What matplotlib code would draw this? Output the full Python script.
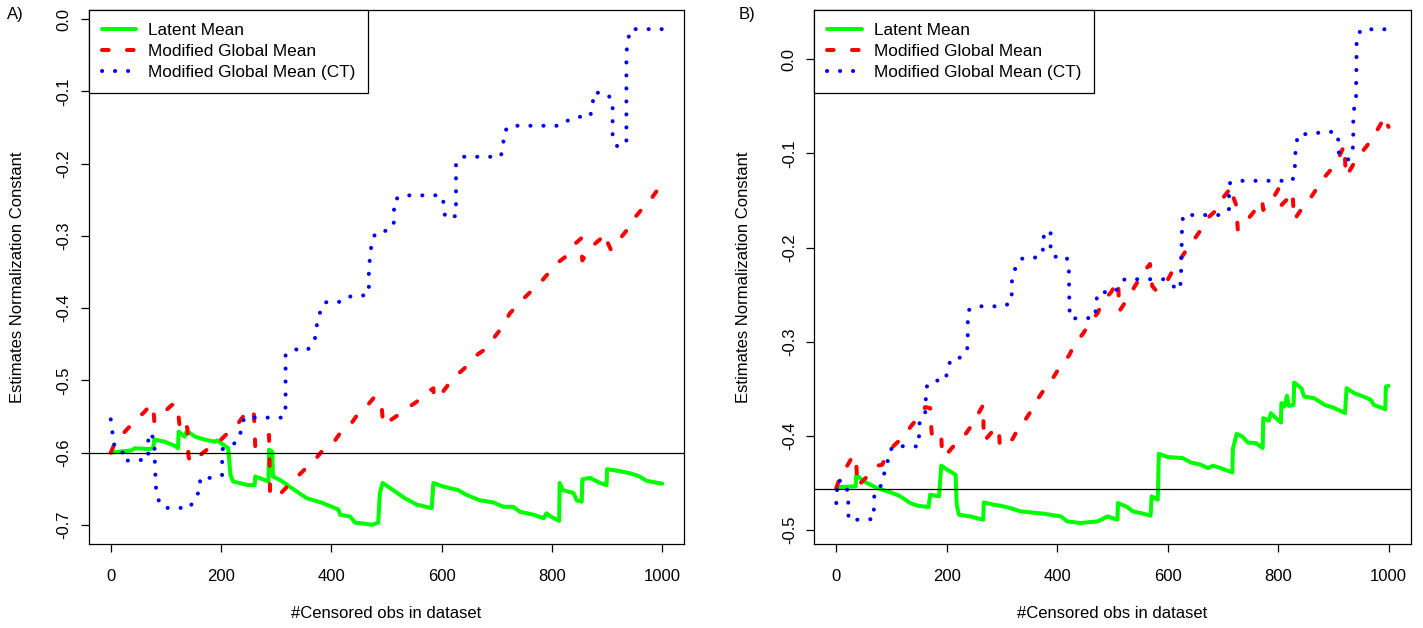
import matplotlib
matplotlib.use("Agg")
import matplotlib.pyplot as plt

plt.rcParams['font.family'] = ['Liberation Sans', 'DejaVu Sans']
plt.rcParams['axes.unicode_minus'] = False
plt.rcParams['lines.scale_dashes'] = False

# ---------------- data (x = #censored obs, y = estimate) ----------------
series_labels = ["Latent Mean", "Modified Global Mean", "Modified Global Mean (CT)"]
x_ticks = [0, 200, 400, 600, 800, 1000]
yticks_A = [-0.7, -0.6, -0.5, -0.4, -0.3, -0.2, -0.1, 0.0]
yticks_B = [-0.5, -0.4, -0.3, -0.2, -0.1, 0.0]
ref_A = -0.6
ref_B = -0.4566

A_latent = [(0,-0.600),(37,-0.597),(44,-0.594),(68,-0.595),(77,-0.594),(79,-0.582),(98,-0.585),
    (117,-0.591),(122,-0.594),(123,-0.571),(130,-0.5755),(134,-0.578),(138,-0.570),(153,-0.578),
    (170,-0.582),(189,-0.585),(193,-0.583),(213,-0.594),(217,-0.631),(222,-0.640),(249,-0.645),
    (261,-0.645),(262,-0.633),(286,-0.640),(287,-0.596),(293,-0.599),(294,-0.633),(307,-0.638),
    (324,-0.647),(355,-0.663),(385,-0.670),(413,-0.679),(416,-0.686),(434,-0.6885),(443,-0.697),
    (457,-0.698),(473,-0.700),(485,-0.697),(488,-0.656),(493,-0.642),(512,-0.652),(533,-0.663),
    (555,-0.672),(582,-0.677),(585,-0.642),(603,-0.647),(630,-0.652),(645,-0.6585),(669,-0.666),
    (694,-0.669),(712,-0.675),(730,-0.675),(742,-0.682),(767,-0.686),(785,-0.691),(790,-0.684),
    (799,-0.689),(813,-0.6945),(814,-0.642),(820,-0.652),(839,-0.656),(845,-0.666),(854,-0.668),
    (855,-0.637),(869,-0.635),(887,-0.642),(899,-0.645),(900,-0.623),(918,-0.625),(941,-0.6285),
    (959,-0.633),(971,-0.639),(1000,-0.643)]

A_mgm = [(0,-0.600),(8,-0.586),(28,-0.569),(41,-0.5585),(62,-0.543),(73,-0.533),(77,-0.535),
    (79,-0.557),(95,-0.545),(111,-0.534),(122,-0.534),(123,-0.550),(126,-0.571),(136,-0.562),
    (139,-0.566),(141,-0.605),(144,-0.614),(158,-0.606),(176,-0.595),(192,-0.588),(212,-0.573),
    (225,-0.566),(240,-0.550),(256,-0.541),(259,-0.540),(260,-0.553),(262,-0.592),(271,-0.587),
    (287,-0.5755),(289,-0.661),(310,-0.655),(320,-0.647),(340,-0.632),(352,-0.623),(370,-0.610),
    (382,-0.599),(404,-0.586),(416,-0.573),(434,-0.562),(446,-0.549),(464,-0.536),(476,-0.525),
    (488,-0.525),(491,-0.534),(494,-0.562),(521,-0.548),(533,-0.541),(555,-0.5295),(570,-0.518),
    (585,-0.511),(586,-0.525),(600,-0.518),(612,-0.506),(630,-0.491),(642,-0.483),(660,-0.467),
    (675,-0.459),(694,-0.442),(706,-0.430),(724,-0.407),(749,-0.3865),(781,-0.363),(809,-0.338),
    (823,-0.330),(839,-0.313),(853,-0.3035),(855,-0.334),(872,-0.315),(887,-0.305),(899,-0.297),
    (900,-0.3075),(907,-0.3196),(918,-0.309),(935,-0.293),(944,-0.2805),(961,-0.265),(975,-0.254),
    (990,-0.238),(1000,-0.226)]

A_ct = [(0,-0.554),(3,-0.571),(4,-0.588),(21,-0.5945),(22,-0.611),(47,-0.611),(68,-0.609),
    (68,-0.573),(79,-0.580),(80,-0.6156),(81,-0.632),(82,-0.649),(86,-0.665),(96,-0.6765),
    (120,-0.6765),(144,-0.6765),(150,-0.664),(162,-0.653),(162,-0.635),(185,-0.635),(202,-0.631),
    (202,-0.6125),(203,-0.595),(220,-0.590),(233,-0.581),(237,-0.566),(242,-0.5516),(266,-0.5516),
    (289,-0.5516),(313,-0.5516),(317,-0.537),(317,-0.465),(333,-0.457),(355,-0.459),(367,-0.4497),
    (373,-0.435),(374,-0.418),(380,-0.405),(388,-0.392),(413,-0.392),(427,-0.384),(450,-0.384),
    (468,-0.3805),(468,-0.345),(473,-0.3104),(480,-0.2957),(499,-0.293),(513,-0.2865),
    (514,-0.2505),(529,-0.244),(600,-0.244),(605,-0.259),(606,-0.275),(626,-0.2726),(626,-0.200),
    (637,-0.1906),(707,-0.1906),(712,-0.1758),(712,-0.1574),(723,-0.1477),(816,-0.1477),
    (830,-0.1398),(846,-0.1353),(869,-0.1353),(874,-0.120),(875,-0.102),(897,-0.102),(910,-0.112),
    (910,-0.1657),(919,-0.1768),(935,-0.1712),(935,-0.046),(938,-0.030),(942,-0.014),(1000,-0.014)]

B_latent = [(0,-0.4566),(4,-0.4545),(31,-0.4538),(35,-0.4538),(36,-0.4414),(50,-0.4485),
    (74,-0.4555),(98,-0.4601),(114,-0.4637),(134,-0.4715),(147,-0.4743),(167,-0.4757),
    (170,-0.4626),(186,-0.4644),(190,-0.4318),(201,-0.4361),(216,-0.4414),(218,-0.4732),
    (222,-0.4839),(243,-0.4857),(266,-0.4892),(267,-0.4708),(285,-0.4732),(297,-0.4743),
    (315,-0.4768),(334,-0.4804),(352,-0.4814),(376,-0.4828),(407,-0.4857),(418,-0.491),
    (442,-0.4927),(473,-0.491),(491,-0.4857),(509,-0.4892),(510,-0.4715),(527,-0.4757),
    (537,-0.4804),(551,-0.4821),(569,-0.4849),(571,-0.4644),(582,-0.4679),(584,-0.4191),
    (600,-0.4226),(627,-0.4237),(642,-0.4283),(660,-0.4308),(673,-0.4343),(682,-0.4318),
    (696,-0.4343),(717,-0.439),(718,-0.4141),(725,-0.3979),(735,-0.4007),(745,-0.4071),
    (760,-0.4078),(772,-0.413),(773,-0.3812),(783,-0.3838),(787,-0.3759),(796,-0.3812),
    (805,-0.3859),(806,-0.3653),(811,-0.3689),(816,-0.3575),(819,-0.3682),(828,-0.3671),
    (829,-0.3434),(842,-0.3494),(847,-0.3583),(865,-0.360),(884,-0.3671),(902,-0.3706),
    (921,-0.3759),(924,-0.3494),(938,-0.3547),(954,-0.3583),(968,-0.3618),(973,-0.3671),
    (994,-0.3717),(995,-0.3477),(1000,-0.347)]

B_mgm = [(0,-0.4555),(7,-0.4438),(22,-0.4297),(31,-0.4202),(34,-0.424),(36,-0.4283),(37,-0.439),
    (38,-0.4538),(50,-0.4467),(68,-0.4368),(74,-0.4318),(83,-0.4308),(92,-0.4202),(104,-0.4106),
    (125,-0.399),(134,-0.3908),(152,-0.3777),(161,-0.3695),(170,-0.3706),(171,-0.3823),
    (173,-0.399),(183,-0.3944),(190,-0.4007),(191,-0.412),(195,-0.4226),(204,-0.4167),
    (222,-0.4042),(234,-0.3982),(250,-0.3848),(256,-0.3777),(266,-0.3671),(267,-0.406),
    (279,-0.3979),(290,-0.3901),(295,-0.399),(296,-0.4106),(306,-0.4113),(319,-0.4035),
    (331,-0.3908),(343,-0.3823),(358,-0.3689),(367,-0.359),(382,-0.3459),(394,-0.337),
    (409,-0.3228),(421,-0.3151),(433,-0.301),(445,-0.2928),(461,-0.2787),(473,-0.2698),
    (484,-0.2556),(497,-0.2479),(510,-0.2351),(511,-0.2468),(512,-0.268),(520,-0.2609),
    (533,-0.2485),(542,-0.2397),(557,-0.2256),(568,-0.2174),(570,-0.2309),(572,-0.2408),
    (578,-0.245),(586,-0.2397),(590,-0.2408),(600,-0.2344),(609,-0.2245),(624,-0.2114),
    (633,-0.2033),(648,-0.1912),(660,-0.1813),(675,-0.1672),(687,-0.1608),(701,-0.1466),
    (711,-0.1389),(718,-0.1353),(719,-0.1466),(724,-0.1548),(725,-0.1636),(727,-0.1813),
    (745,-0.170),(756,-0.1619),(771,-0.1495),(773,-0.160),(792,-0.1466),(801,-0.137),
    (805,-0.1424),(806,-0.1548),(822,-0.1452),(826,-0.1406),(828,-0.1619),(829,-0.1707),
    (846,-0.1558),(858,-0.1477),(873,-0.1346),(883,-0.1258),(899,-0.1148),(909,-0.1052),
    (920,-0.0911),(921,-0.1028),(922,-0.1184),(923,-0.1247),(939,-0.1088),(949,-0.1006),
    (965,-0.0886),(974,-0.0805),(990,-0.0645),(994,-0.0603),(997,-0.068),(1000,-0.0717)]

B_ct = [(0,-0.4715),(1,-0.4608),(2,-0.4467),(18,-0.451),(21,-0.4626),(22,-0.4761),(22,-0.4892),
    (46,-0.4892),(68,-0.4885),(68,-0.475),(69,-0.4608),(80,-0.4538),(86,-0.4414),(92,-0.4318),
    (95,-0.4177),(104,-0.4106),(127,-0.4113),(149,-0.4113),(150,-0.3971),(151,-0.383),
    (161,-0.3753),(162,-0.3618),(163,-0.3483),(174,-0.3413),(197,-0.3413),(202,-0.330),
    (207,-0.3186),(228,-0.3165),(237,-0.308),(238,-0.2946),(238,-0.2805),(239,-0.2666),
    (254,-0.2624),(278,-0.2624),(302,-0.2624),(317,-0.2585),(318,-0.2443),(318,-0.2309),
    (325,-0.2209),(335,-0.2118),(357,-0.2113),(374,-0.2071),(374,-0.1933),(378,-0.1816),
    (388,-0.1848),(388,-0.199),(393,-0.2097),(417,-0.2097),(421,-0.2209),(422,-0.262),
    (423,-0.275),(447,-0.2755),(469,-0.274),(470,-0.2602),(473,-0.2485),(479,-0.2468),
    (500,-0.2485),(513,-0.2421),(522,-0.2336),(592,-0.2336),(606,-0.2397),(622,-0.245),
    (624,-0.2326),(626,-0.1778),(628,-0.1654),(699,-0.1654),(711,-0.159),(711,-0.1452),
    (713,-0.1311),(733,-0.129),(826,-0.129),(830,-0.1176),(831,-0.1035),(832,-0.0908),
    (837,-0.0794),(861,-0.0794),(881,-0.077),(905,-0.077),(910,-0.0882),(910,-0.102),
    (927,-0.1063),(935,-0.0971),(936,-0.0833),(936,-0.0557),(941,-0.0451),(942,0.0098),
    (942,0.0237),(951,0.032),(1000,0.032)]

# ---------------- layout ----------------
W, H = 1423, 628
fig = plt.figure(figsize=(W / 100, H / 100), dpi=100)
fig.patch.set_facecolor('white')

def make_axes(left_px, right_px):
    return fig.add_axes([left_px / W, 1 - 544 / H, (right_px - left_px) / W, (544 - 10) / H])

styles = [
    dict(color='#00FF00', lw=2.9, linestyle='-', solid_joinstyle='round', solid_capstyle='round'),
    dict(color='#FF0000', lw=2.9, dashes=(4.8, 13.2), dash_capstyle='round', dash_joinstyle='round'),
    dict(color='#0000FF', lw=2.9, dashes=(0.1, 9.26), dash_capstyle='round', dash_joinstyle='round'),
]

panels = [
    dict(left=88.7, right=684.3, data=[A_latent, A_mgm, A_ct], ref=ref_A, yticks=yticks_A,
         ylim=(-0.7265, 0.0125), tag="A)", tag_x=15),
    dict(left=814.2, right=1410.7, data=[B_latent, B_mgm, B_ct], ref=ref_B, yticks=yticks_B,
         ylim=(-0.515, 0.0525), tag="B)", tag_x=747),
]

for p in panels:
    ax = make_axes(p['left'], p['right'])
    for pts, st, lab in zip(p['data'], styles, series_labels):
        xs, ys = zip(*pts)
        ax.plot(xs, ys, label=lab, **st)
    ax.axhline(p['ref'], color='black', lw=0.9, zorder=5)
    ax.set_xlim(-40, 1040)
    ax.set_ylim(*p['ylim'])
    ax.set_xticks(x_ticks, labels=[str(v) for v in x_ticks])
    ax.set_yticks(p['yticks'], labels=[f"{v:.1f}" for v in p['yticks']],
                  rotation=90, va='center')
    ax.tick_params(axis='both', direction='out', length=5.5, width=0.9, labelsize=12,
                   color='black')
    ax.tick_params(axis='x', pad=12.5)
    ax.tick_params(axis='y', pad=7)
    for s in ax.spines.values():
        s.set_linewidth(0.9)
        s.set_color('black')
    leg = ax.legend(loc='upper left', borderaxespad=0, fancybox=False, edgecolor='black',
                    framealpha=1, fontsize=12.4, handlelength=2.0, handletextpad=0.7,
                    borderpad=0.75, labelspacing=0.35)
    leg.get_frame().set_linewidth(0.9)
    cx = (p['left'] + p['right']) / 2
    fig.text(cx / W, 1 - 613 / H, "#Censored obs in dataset", ha='center', va='center', fontsize=12)
    fig.text((p['left'] - 70.7) / W, 1 - 277 / H, "Estimates Normalization Constant",
             ha='center', va='center', rotation=90, fontsize=12)
    fig.text(p['tag_x'] / W, 1 - 15 / H, p['tag'], ha='center', va='center', fontsize=12)

fig.savefig("out.png", dpi=100, facecolor='white')
